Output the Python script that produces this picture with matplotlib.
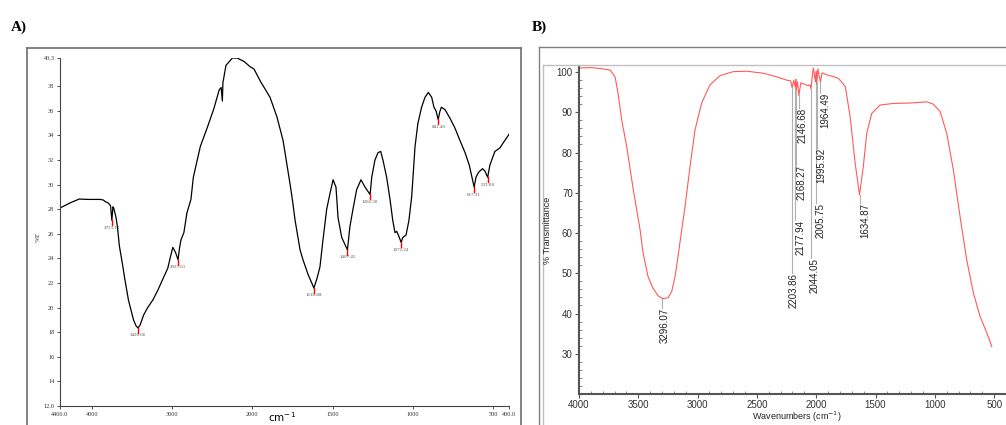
import numpy as np
import matplotlib
matplotlib.use("Agg")
import matplotlib.pyplot as plt
from matplotlib.lines import Line2D
from matplotlib.ticker import MultipleLocator

# ---------------- Panel A data ----------------
a_wn = [4400, 4280, 4161, 4050, 3897, 3860, 3830, 3797, 3770, 3753.13, 3740, 3730, 3700,
        3684, 3659, 3620, 3596, 3546, 3483, 3450, 3426.66, 3400, 3357, 3307, 3244, 3181,
        3119, 3056, 3020, 2993, 2960, 2927.61, 2910, 2892, 2855, 2817, 2767, 2737, 2650,
        2560, 2480, 2415, 2390, 2375, 2368, 2330, 2250, 2190, 2100, 2031, 1990, 1950,
        1890, 1847, 1809, 1766, 1750, 1734, 1703, 1685, 1653, 1616.88, 1599, 1579, 1560,
        1537, 1516, 1497, 1479, 1466, 1443, 1407.45, 1392, 1373, 1350, 1323, 1298,
        1266.30, 1256, 1236, 1217, 1200, 1186, 1163, 1142, 1125, 1111, 1100, 1090,
        1072.24, 1063, 1042, 1024, 1007, 986, 968, 945, 924, 903, 882, 868, 855, 841.49,
        832, 822, 799, 768, 737, 706, 674, 648, 617.31, 606, 590, 565, 550, 533.08, 519,
        488, 456, 436, 415, 400]
a_t = [28.1, 28.5, 28.83, 28.8, 28.8, 28.75, 28.6, 28.5, 28.3, 27.1, 28.2, 28.1, 27.3,
       26.6, 25.0, 23.5, 22.5, 20.6, 19.0, 18.5, 18.35, 18.6, 19.4, 20.0, 20.6, 21.4,
       22.3, 23.2, 24.2, 24.9, 24.5, 23.9, 24.8, 25.5, 26.1, 27.7, 28.8, 30.6, 33.1,
       34.7, 36.2, 37.7, 37.9, 36.8, 38.3, 39.7, 40.3, 40.3, 40.0, 39.6, 39.4, 38.4,
       37.1, 35.5, 33.6, 30.1, 28.7, 27.1, 24.7, 23.9, 22.7, 21.6, 22.3, 23.3, 25.5,
       28.0, 29.3, 30.4, 29.8, 27.3, 25.7, 24.7, 26.6, 28.0, 29.6, 30.4, 29.8,
       29.2, 30.6, 32.0, 32.6, 32.7, 32.0, 30.6, 28.8, 27.1, 26.1, 26.2, 25.9,
       25.3, 25.7, 25.9, 27.1, 29.0, 33.1, 35.0, 36.3, 37.1, 37.5, 37.1, 36.3, 36.0, 35.3,
       35.9, 36.3, 36.1, 35.4, 34.6, 33.6, 32.6, 31.6, 29.8, 30.6, 31.0, 31.3, 31.1, 30.6, 31.6,
       32.7, 33.0, 33.4, 33.8, 34.1]
a_peaks = [3753.13, 3426.66, 2927.61, 1616.88, 1407.45, 1266.30, 1072.24, 841.49, 617.31, 533.08]
a_peak_labels = ["3753.13", "3426.66", "2927.61", "1616.88", "1407.45", "1266.30",
                 "1072.24", "841.49", "617.31", "533.08"]
a_xticks = [4400, 4000, 3000, 2000, 1500, 1000, 500, 400]
a_xticklabels = ["4400.0", "4000", "3000", "2000", "1500", "1000", "500", "400.0"]
a_yticks = [12.0, 14, 16, 18, 20, 22, 24, 26, 28, 30, 32, 34, 36, 38, 40.3]
a_yticklabels = ["12.0", "14", "16", "18", "20", "22", "24", "26", "28", "30", "32",
                 "34", "36", "38", "40.3"]

# ---------------- Panel B data ----------------
b_wn = [4000, 3900, 3800, 3738, 3696, 3671, 3640, 3598, 3542, 3485, 3460, 3418, 3379,
        3333, 3296.07, 3249, 3218, 3190, 3165, 3134, 3106, 3064, 3022, 2966, 2896, 2812,
        2700, 2585, 2445, 2333, 2250, 2215, 2203.86, 2190, 2177.94, 2172, 2168.27, 2158,
        2146.68, 2130, 2100, 2070, 2052, 2044.05, 2035, 2025, 2012, 2005.75, 2000, 1995.92,
        1985, 1975, 1964.49, 1950, 1911, 1860, 1812, 1755, 1714, 1672, 1634.87, 1603,
        1574, 1532, 1462, 1350, 1208, 1068, 1012, 956, 900, 844, 787, 731, 675, 619, 562,
        520]
b_t = [101.0, 101.1, 100.8, 100.5, 98.8, 94.8, 88.1, 81.5, 70.7, 60.8, 55.1, 49.2, 46.4,
       44.4, 43.7, 43.9, 45.5, 49.2, 54.2, 60.8, 66.6, 76.5, 85.6, 92.3, 96.8, 99.1,
       100.1, 100.2, 99.7, 98.8, 98.0, 97.8, 96.2, 97.9, 96.4, 98.2, 95.6, 97.6,
       94.2, 97.3, 97.0, 96.6, 96.8, 95.8, 98.5, 101.0, 98.6, 97.6, 100.2, 97.2,
       100.8, 99.0, 97.6, 99.8, 99.3, 98.9, 98.4, 96.4, 88.9, 77.4, 69.5, 76.5,
       84.8, 89.7, 91.8, 92.2, 92.3, 92.6, 92.0, 90.2, 84.8, 75.7, 64.0, 53.3, 45.1, 39.3, 35.2,
       31.8]
b_peaks = [3296.07, 2203.86, 2177.94, 2168.27, 2146.68, 2044.05, 2005.75, 1995.92, 1964.49, 1634.87]
b_peak_labels = ["3296.07", "2203.86", "2177.94", "2168.27", "2146.68", "2044.05",
                 "2005.75", "1995.92", "1964.49", "1634.87"]
b_label_x = [3275, 2195, 2136, 2122, 2113, 2010, 1967, 1959, 1925, 1588]
b_label_top = [41.4, 50.1, 63.3, 76.9, 91.1, 53.8, 67.5, 81.1, 94.8, 67.5]
b_xticks = [4000, 3500, 3000, 2500, 2000, 1500, 1000, 500]
b_yticks = [30, 40, 50, 60, 70, 80, 90, 100]

W, H = 1006, 425
fig = plt.figure(figsize=(W / 100, H / 100), dpi=100)


def fx(px):
    return px / W


def fy(py):
    return 1 - py / H


# ---------------- frames ----------------
frame_a = "#6e6e6e"
fig.add_artist(Line2D([fx(27), fx(27)], [fy(48), fy(440)], color=frame_a, lw=1.2))
fig.add_artist(Line2D([fx(27), fx(521)], [fy(48), fy(48)], color=frame_a, lw=1.2))
fig.add_artist(Line2D([fx(521), fx(521)], [fy(48), fy(440)], color=frame_a, lw=1.2))

fig.add_artist(Line2D([fx(539), fx(539)], [fy(47), fy(440)], color="#808080", lw=1.0))
fig.add_artist(Line2D([fx(539), fx(1010)], [fy(47), fy(47)], color="#808080", lw=1.0))
fig.add_artist(Line2D([fx(543), fx(543)], [fy(65), fy(440)], color="#c0c0c0", lw=1.0))
fig.add_artist(Line2D([fx(543), fx(1010)], [fy(65), fy(65)], color="#c0c0c0", lw=1.0))

fig.text(fx(19), fy(27), "A)", fontsize=11, fontweight="bold", family="Liberation Serif",
         ha="center", va="center")
fig.text(fx(539), fy(27), "B)", fontsize=11, fontweight="bold", family="Liberation Serif",
         ha="center", va="center")

# ---------------- Panel A ----------------
axa = fig.add_axes([fx(60), fy(406), fx(509) - fx(60), fy(58) - fy(406)])


def fwd(w):
    w = np.asarray(w, dtype=float)
    return np.where(w >= 2000, w, 2000 + 2 * (w - 2000))


def inv(u):
    u = np.asarray(u, dtype=float)
    return np.where(u >= 2000, u, 2000 + (u - 2000) / 2)


axa.set_xscale("function", functions=(fwd, inv))
axa.plot(a_wn, a_t, color="black", lw=0.9)
axa.set_xlim(4400, 400)
axa.set_ylim(12.0, 40.3)
axa.set_xticks(a_xticks)
axa.set_xticklabels(a_xticklabels)
axa.set_yticks(a_yticks)
axa.set_yticklabels(a_yticklabels)
axa.minorticks_off()
axa.tick_params(axis="both", labelsize=4.5, length=2, width=0.6, pad=2, color="#333333")
for lab in axa.get_xticklabels() + axa.get_yticklabels():
    lab.set_family("Liberation Serif")
    lab.set_color("#333333")
for s in ("top", "right"):
    axa.spines[s].set_visible(False)
for s in ("left", "bottom"):
    axa.spines[s].set_color("#444444")
    axa.spines[s].set_linewidth(0.8)

a_wn_arr = np.array(a_wn)[::-1]
a_t_arr = np.array(a_t)[::-1]
for wn, lab in zip(a_peaks, a_peak_labels):
    tmin = float(np.interp(wn, a_wn_arr, a_t_arr))
    axa.plot([wn, wn], [tmin, tmin - 0.4], color="red", lw=1.0)
    axa.text(wn, tmin - 0.45, lab, fontsize=3.6, color="#555555", ha="center", va="top",
             family="Liberation Serif")

fig.text(fx(38), fy(237), "%T", rotation=90, fontsize=5, family="Liberation Serif",
         ha="center", va="center", color="#333333")
fig.text(fx(282), fy(417), "cm$^{-1}$", fontsize=7.5, ha="center", va="center")

# ---------------- Panel B ----------------
axb = fig.add_axes([fx(579), fy(394), 1 - fx(579), fy(66) - fy(394)])
axb.plot(b_wn, b_t, color="#ff5a5a", lw=0.8)
axb.set_xlim(4000, 400)
axb.set_ylim(20, 101.5)
axb.set_xticks(b_xticks)
axb.set_yticks(b_yticks)
axb.xaxis.set_minor_locator(MultipleLocator(100))
axb.yaxis.set_minor_locator(MultipleLocator(2))
axb.tick_params(axis="both", which="major", labelsize=7, length=3, width=0.8,
                direction="out", color="#555555", pad=1.5)
axb.tick_params(axis="both", which="minor", length=2, width=0.6, direction="in",
                color="#777777")
for lab in axb.get_xticklabels() + axb.get_yticklabels():
    lab.set_family("Liberation Sans")
    lab.set_color("#333333")
for s in ("top", "right"):
    axb.spines[s].set_visible(False)
for s in ("left", "bottom"):
    axb.spines[s].set_color("#555555")
    axb.spines[s].set_linewidth(1.5)

b_wn_arr = np.array(b_wn)[::-1]
b_t_arr = np.array(b_t)[::-1]
for wn, lab, lx, ltop in zip(b_peaks, b_peak_labels, b_label_x, b_label_top):
    tv = float(np.interp(wn, b_wn_arr, b_t_arr))
    axb.plot([wn, wn], [tv, ltop], color="#b0b0b0", lw=0.8, zorder=1)
    axb.text(lx, ltop, lab, rotation=90, fontsize=7, ha="center", va="top",
             family="Liberation Sans", color="#222222")

fig.text(fx(547), fy(230), "% Transmittance", rotation=90, fontsize=6.5,
         family="Liberation Sans", ha="center", va="center", color="#222222")
fig.text(fx(797), fy(417), "Wavenumbers (cm$^{-1}$)", fontsize=6.5,
         family="Liberation Sans", ha="center", va="center", color="#222222")

fig.savefig("out.png", dpi=100)
